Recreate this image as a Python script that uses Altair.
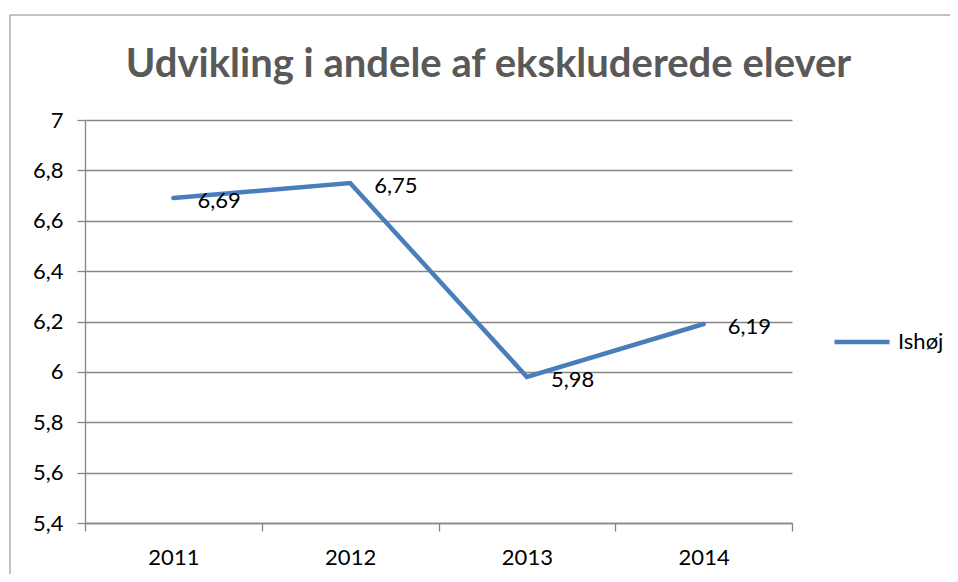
import altair as alt
import pandas as pd

years = ["2011", "2012", "2013", "2014"]
values = [6.69, 6.75, 5.98, 6.19]
series = "Ishøj"
y_ticks = [5.4, 5.6, 5.8, 6.0, 6.2, 6.4, 6.6, 6.8, 7.0]
title_text = "Udvikling i andele af ekskluderede elever"

df = pd.DataFrame({
    "year": years,
    "value": values,
    "series": [series] * len(years),
})
df["label"] = [f"{v:.2f}".replace(".", ",") for v in values]

FONT = "Lato"
GRAY = "#868686"
BLUE = "#4A7EBB"

x_enc = alt.X(
    "year:N",
    sort=years,
    scale=alt.Scale(type="band", paddingInner=0, paddingOuter=0),
    axis=alt.Axis(
        title=None, labelAngle=0, tickBand="extent", grid=False,
        tickSize=8, labelPadding=16,
    ),
)
y_enc = alt.Y(
    "value:Q",
    scale=alt.Scale(domain=[5.4, 7.0], nice=False, zero=False),
    axis=alt.Axis(
        title=None, values=y_ticks, grid=True, tickSize=8, labelPadding=14,
        labelExpr="replace(format(datum.value, '.2~r'), '.', ',')",
    ),
)

border = alt.Chart(alt.Data(values=[{"a": 1}])).mark_rect(
    filled=False, stroke=GRAY, strokeWidth=1
).encode(
    x=alt.value(-75), x2=alt.value(1000), y=alt.value(-105), y2=alt.value(500)
)

line = alt.Chart(df).mark_line(strokeWidth=4.5, strokeCap="round").encode(
    x=x_enc,
    y=y_enc,
    color=alt.Color(
        "series:N",
        scale=alt.Scale(range=[BLUE]),
        legend=alt.Legend(
            orient="none", legendX=747, legendY=192, title=None,
            symbolType="stroke", symbolSize=3025, symbolStrokeWidth=4.5,
            labelFontSize=22, labelFont=FONT, labelColor="black", labelOffset=6,
        ),
    ),
)

text = alt.Chart(df).mark_text(
    align="left", baseline="middle", dx=24, dy=3, fontSize=22, font=FONT, color="black"
).encode(
    x=alt.X("year:N", sort=years),
    y="value:Q",
    text="label:N",
)

chart = alt.layer(border, line, text).properties(
    width=707,
    height=403,
    autosize="none",
    padding={"left": 77, "top": 112, "right": 158, "bottom": 51},
    title=alt.TitleParams(
        title_text, font=FONT, fontSize=40, fontWeight="bold", color="#595959",
        anchor="middle", frame="group", dx=50, offset=0, dy=70,
    ),
).configure_view(stroke=None).configure_axis(
    labelFont=FONT, labelFontSize=22, labelColor="black",
    domainColor=GRAY, tickColor=GRAY, gridColor=GRAY,
    domainWidth=1.3, tickWidth=1.3, gridWidth=1.3,
)

chart.save("out.html", embed_options={"renderer": "svg", "actions": False})
